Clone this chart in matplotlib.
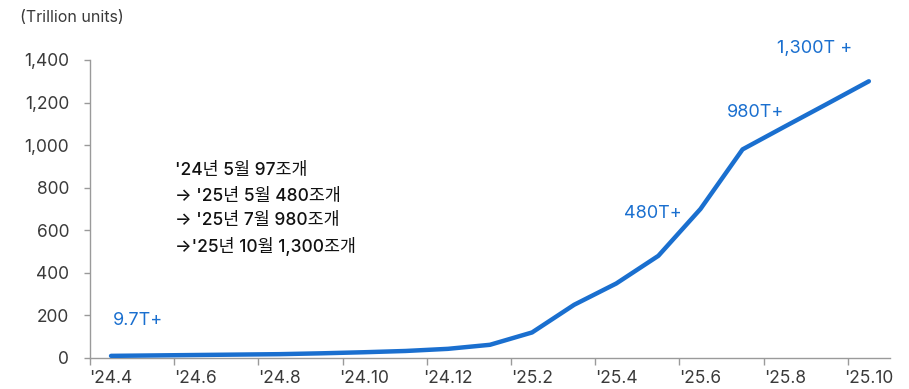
import numpy as np
import matplotlib
matplotlib.use("Agg")
import matplotlib.pyplot as plt
from matplotlib.ticker import FixedLocator

plt.rcParams['font.family'] = ['Inter', 'Noto Sans CJK KR', 'DejaVu Sans']

# monthly series, '24.4 .. '25.10 (trillion units)
months = ["'24.4", "'24.5", "'24.6", "'24.7", "'24.8", "'24.9", "'24.10", "'24.11",
          "'24.12", "'25.1", "'25.2", "'25.3", "'25.4", "'25.5", "'25.6", "'25.7",
          "'25.8", "'25.9", "'25.10"]
values = [10, 12, 14, 16, 18, 22, 27, 33, 43, 62, 120, 250, 350, 480, 700, 980,
          1087, 1193, 1300]
y_ticks = [0, 200, 400, 600, 800, 1000, 1200, 1400]
callout_text = ["9.7T+", "480T+", "980T+", "1,300T +"]
note_lines = ["'24년 5월 97조개", "→ '25년 5월 480조개", "→ '25년 7월 980조개", "→'25년 10월 1,300조개"]

BLUE, INK, AXIS = "#1a6fcf", "#3a3a3a", "#9a9a9a"

fig = plt.figure(figsize=(9.09, 3.89), dpi=100)
ax = fig.add_axes([0.099, 0.0797, 0.88, 0.7661])
x = np.arange(len(months))
ax.plot(x, values, color=BLUE, lw=3.2, solid_capstyle="round", solid_joinstyle="round", zorder=3)

ax.set_xlim(-0.5, len(months) - 0.5)
ax.set_ylim(0, 1400)
ax.set_yticks(y_ticks)
ax.set_yticklabels([f"{v:,}" for v in y_ticks])
ax.set_xticks(x[::2])
ax.set_xticklabels(months[::2])
ax.xaxis.set_minor_locator(FixedLocator(np.arange(-0.5, len(months) - 0.5, 2)))
ax.tick_params(axis="x", which="major", length=0, pad=9, labelsize=12.5, colors=INK)
ax.tick_params(axis="x", which="minor", length=5, width=1, color=AXIS, direction="out")
ax.tick_params(axis="y", length=4, width=1, color=AXIS, pad=11, labelsize=12.5, labelcolor=INK)
for s in ("top", "right"):
    ax.spines[s].set_visible(False)
for s in ("left", "bottom"):
    ax.spines[s].set_color(AXIS)
    ax.spines[s].set_linewidth(1)

# value callouts (left edge in category units, centre height in data units)
callout_pos = [(0.05, 174), (12.19, 681), (14.62, 1151), (15.81, 1456)]
for txt, (cx, cy) in zip(callout_text, callout_pos):
    ax.text(cx, cy, txt, color=BLUE, fontsize=13, ha="left", va="center", clip_on=False)

for k, line in enumerate(note_lines):
    fig.text(175 / 909, 1 - (171 + 25 * k) / 389, line, fontsize=12.5, color="#111111",
             ha="left", va="center", fontweight="medium")

fig.text(20 / 909, 1 - 17 / 389, "(Trillion units)", fontsize=11.5, color=INK, ha="left", va="center")

fig.savefig("out.png", dpi=100, facecolor="white")
